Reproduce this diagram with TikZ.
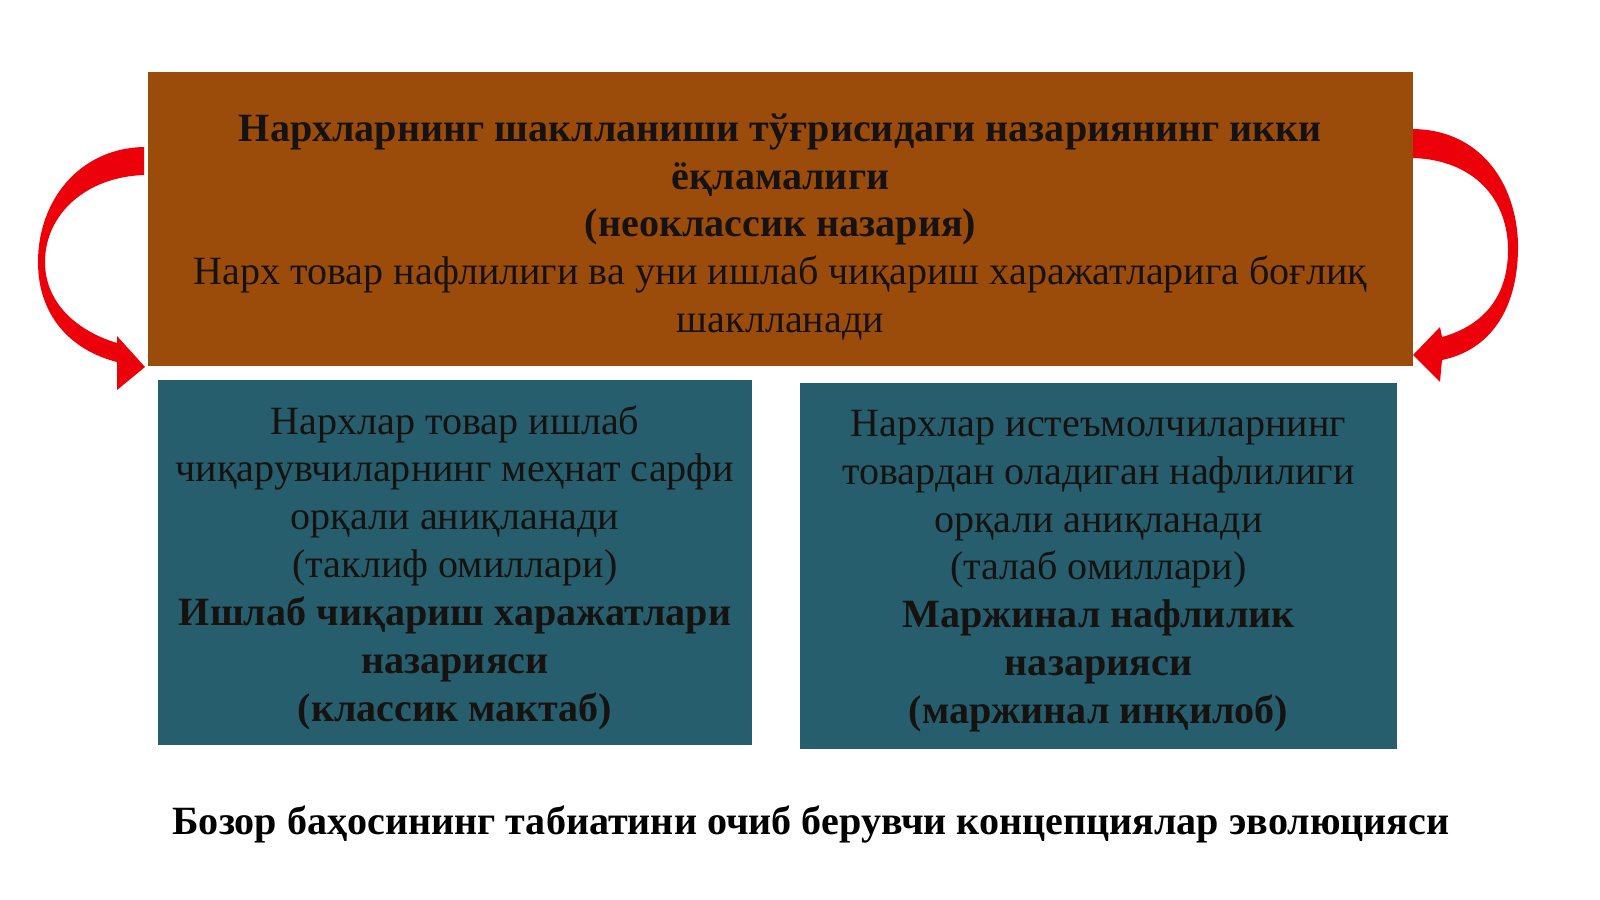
\documentclass[tikz,border=0pt]{standalone}
\usepackage{fontspec}
\setmainfont{Liberation Serif}
\usepackage{tikz}
\usetikzlibrary{positioning}
\definecolor{boxbrown}{RGB}{156,76,10}
\definecolor{boxteal}{RGB}{38,94,110}
\definecolor{arrowred}{RGB}{236,0,10}
\definecolor{textdark}{RGB}{22,18,16}
\tikzset{
  mainbox/.style={fill=boxbrown,inner sep=0pt,
    minimum width=12.65cm,minimum height=2.94cm},
  sidebox/.style={fill=boxteal,inner sep=0pt,minimum height=3.65cm},
  boxtext/.style={text=textdark,align=center,inner sep=0pt,
    font=\fontsize{11.4}{13.6}\selectfont},
  captiontext/.style={text=black,font=\fontsize{11.4}{13.6}\selectfont\bfseries}
}
\begin{document}
\begin{tikzpicture}[x=0.01cm,y=-0.01cm]
                    \useasboundingbox (0,0) rectangle (1600,899);
                    % curved arrows behind the top box
                    \fill[arrowred] (144,147) .. controls (80,148) and (38,200) .. (38,262)
                        .. controls (38,315) and (70,350) .. (117,362)
                        -- (117,390) -- (145,367) -- (117,336) -- (117,343)
                        .. controls (80,332) and (45,305) .. (45,262)
                        .. controls (45,215) and (85,177) .. (144,175) -- cycle;
                    \fill[arrowred] (1413,129) .. controls (1485,130) and (1519,190) .. (1518,250)
                        .. controls (1517,310) and (1490,350) .. (1442,360)
                        -- (1440,382) -- (1413,355) -- (1440,327) -- (1442,337)
                        .. controls (1485,325) and (1508,295) .. (1508,250)
                        .. controls (1508,200) and (1475,160) .. (1413,158) -- cycle;
                    % boxes
                    \node[mainbox] (theory) at (780.5,219) {};
                    \node[sidebox,minimum width=5.94cm] (supply) at (455,562.5) {};
                    \node[sidebox,minimum width=5.97cm] (demand) at (1098.5,566) {};
                    % texts
                    \node[boxtext] (theorytext) at ([yshift=-0.08cm]theory.center)
                        {\textbf{Нархларнинг шаклланиши тўғрисидаги назариянинг икки}\\
                         \textbf{ёқламалиги}\\
                         \textbf{(неоклассик назария)}\\
                         Нарх товар нафлилиги ва уни ишлаб чиқариш харажатларига боғлиқ\\
                         шаклланади};
                    \node[boxtext] (supplytext) at ([yshift=-0.05cm]supply.center)
                        {Нархлар товар ишлаб\\
                         чиқарувчиларнинг меҳнат сарфи\\
                         орқали аниқланади\\
                         (таклиф омиллари)\\
                         \textbf{Ишлаб чиқариш харажатлари}\\
                         \textbf{назарияси}\\
                         \textbf{(классик мактаб)}};
                    \node[boxtext] (demandtext) at ([yshift=-0.05cm]demand.center)
                        {Нархлар истеъмолчиларнинг\\
                         товардан оладиган нафлилиги\\
                         орқали аниқланади\\
                         (талаб омиллари)\\
                         \textbf{Маржинал нафлилик}\\
                         \textbf{назарияси}\\
                         \textbf{(маржинал инқилоб)}};
                    \node[captiontext] (caption) at (811,824)
                        {Бозор баҳосининг табиатини очиб берувчи концепциялар эволюцияси};
                \end{tikzpicture}
\end{document}
